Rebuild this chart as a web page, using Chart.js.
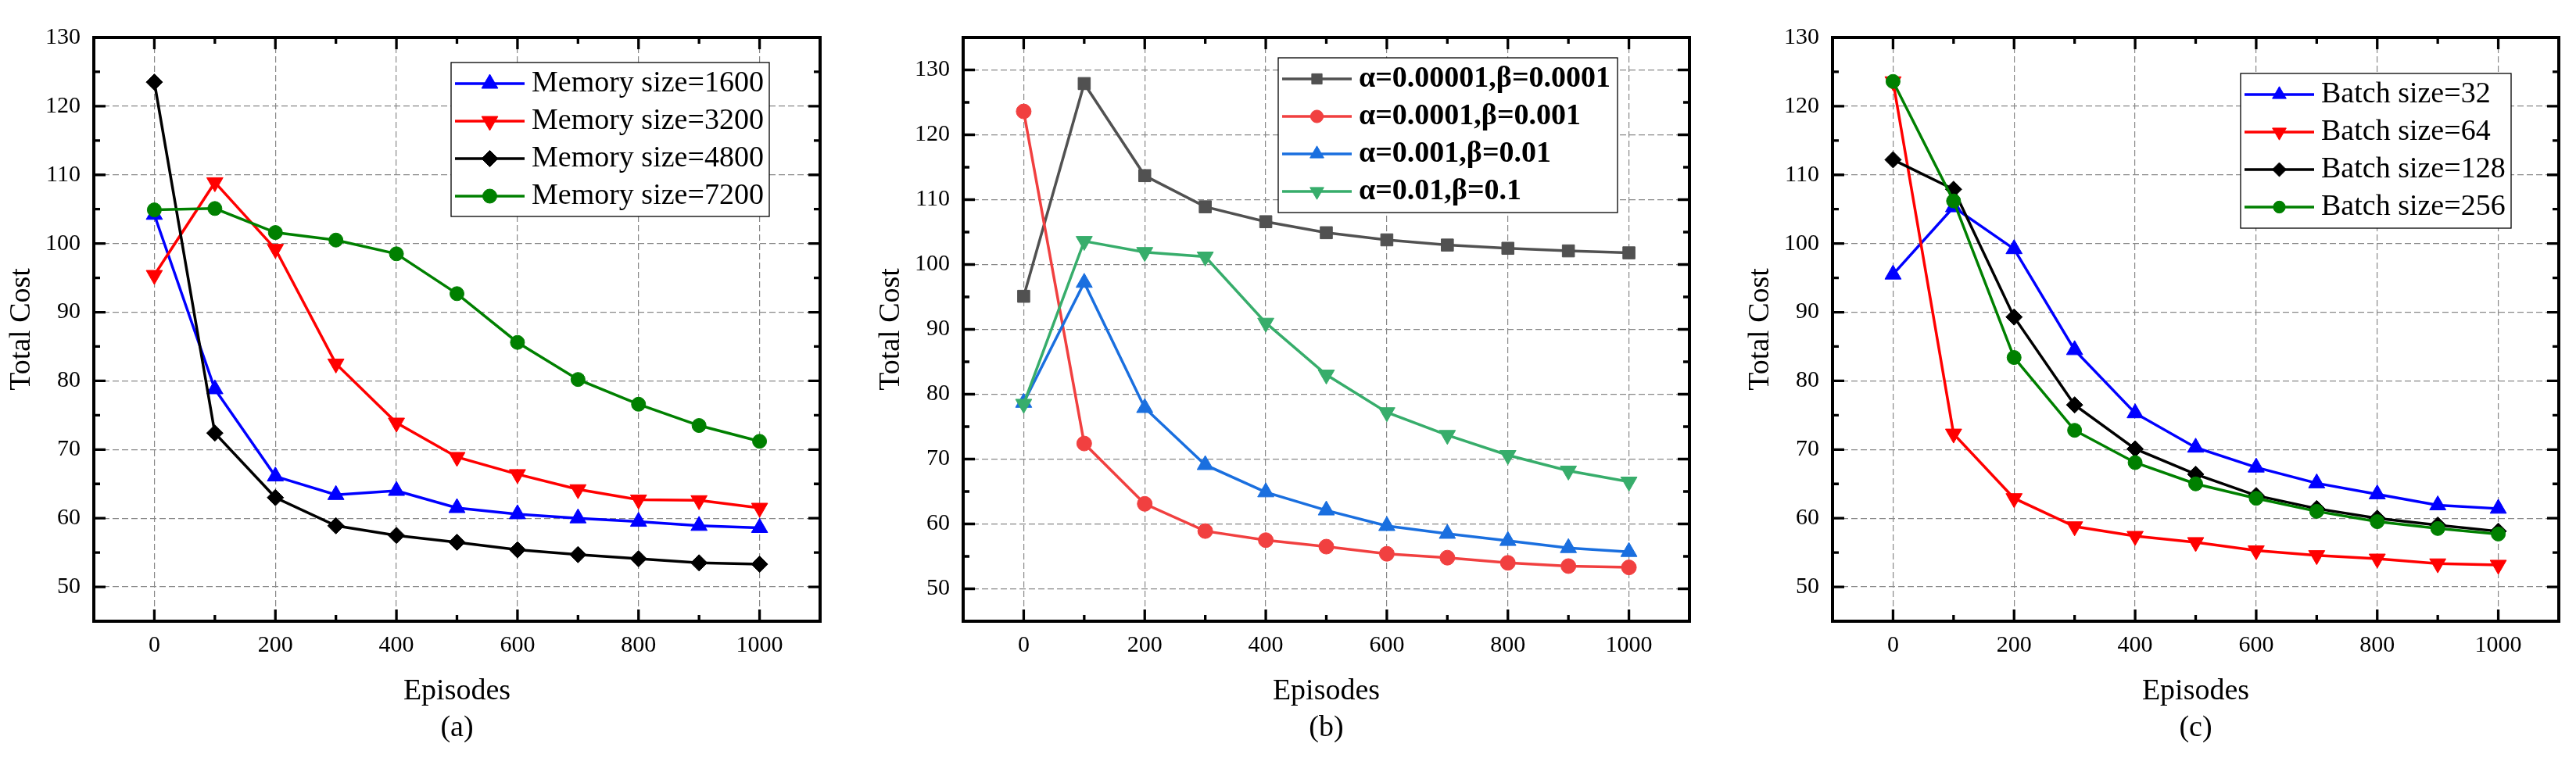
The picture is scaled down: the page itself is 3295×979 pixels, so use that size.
<!DOCTYPE html>
<html>
<head>
<meta charset="utf-8">
<script src="https://cdn.jsdelivr.net/npm/chart.js@4.4.0/dist/chart.umd.min.js"></script>
<style>
  html, body { margin: 0; padding: 0; background: #fff; overflow: hidden; }
  .panel { position: absolute; top: 0; }
</style>
</head>
<body>
<div class="panel" style="left:0px"><canvas id="chartA" width="1070" height="979"></canvas></div>
<div class="panel" style="left:1112px"><canvas id="chartB" width="1070" height="979"></canvas></div>
<div class="panel" style="left:2224px"><canvas id="chartC" width="1070" height="979"></canvas></div>
<script>
// x values and axis ticks
var episodes = [0, 100, 200, 300, 400, 500, 600, 700, 800, 900, 1000];
var xTickLabels = [0, 200, 400, 600, 800, 1000];
var xMinorTicks = [100, 300, 500, 700, 900];
var yTickLabels = [50, 60, 70, 80, 90, 100, 110, 120, 130];
var yMinorTicks = [55, 65, 75, 85, 95, 105, 115, 125];

// (a) memory size
var memLabels = ['Memory size=1600', 'Memory size=3200', 'Memory size=4800', 'Memory size=7200'];
var mem1600 = [104.2, 78.8, 66.1, 63.4, 64.0, 61.5, 60.6, 60.0, 59.5, 58.9, 58.6];
var mem3200 = [95.4, 108.9, 99.2, 82.5, 73.9, 68.9, 66.4, 64.2, 62.7, 62.6, 61.5];
var mem4800 = [123.5, 72.4, 63.0, 58.9, 57.5, 56.5, 55.4, 54.7, 54.1, 53.5, 53.3];
var mem7200 = [104.9, 105.1, 101.6, 100.5, 98.5, 92.7, 85.6, 80.2, 76.6, 73.5, 71.2];

// (b) learning rates
var lrLabels = ['α=0.00001,β=0.0001', 'α=0.0001,β=0.001', 'α=0.001,β=0.01', 'α=0.01,β=0.1'];
var lr1 = [95.1, 127.9, 113.7, 108.9, 106.6, 104.9, 103.8, 103.0, 102.5, 102.1, 101.8];
var lr2 = [123.6, 72.4, 63.1, 58.9, 57.5, 56.5, 55.4, 54.8, 54.0, 53.5, 53.3];
var lr3 = [78.7, 97.2, 77.9, 69.1, 64.9, 62.1, 59.7, 58.5, 57.4, 56.3, 55.7];
var lr4 = [78.5, 103.6, 101.9, 101.2, 91.0, 83.0, 77.2, 73.7, 70.6, 68.2, 66.5];

// (c) batch size
var batchLabels = ['Batch size=32', 'Batch size=64', 'Batch size=128', 'Batch size=256'];
var batch32 = [95.5, 105.3, 99.2, 84.5, 75.3, 70.3, 67.4, 65.1, 63.5, 61.9, 61.4];
var batch64 = [123.6, 72.3, 62.9, 58.8, 57.4, 56.5, 55.3, 54.6, 54.1, 53.4, 53.2];
var batch128 = [112.2, 107.9, 89.3, 76.5, 70.1, 66.4, 63.3, 61.4, 60.0, 59.0, 58.1];
var batch256 = [123.6, 106.2, 83.4, 72.8, 68.1, 65.0, 62.9, 61.0, 59.5, 58.5, 57.7];

var FONT = '"Liberation Serif", "Times New Roman", serif';

// legend with a frame, line sample and marker, drawn inside the plot
var boxLegend = {
  id: 'boxLegend',
  afterDatasetsDraw: function(chart, args, opts) {
    var ctx = chart.ctx;
    var x = chart.chartArea.left + opts.left;
    var y = opts.top;
    ctx.save();
    ctx.fillStyle = '#fff';
    ctx.fillRect(x, y, opts.width, opts.height);
    ctx.lineWidth = 1.3;
    ctx.strokeStyle = '#000';
    ctx.strokeRect(x, y, opts.width, opts.height);
    ctx.font = opts.font;
    ctx.textBaseline = 'middle';
    ctx.textAlign = 'left';
    chart.data.datasets.forEach(function(ds, i) {
      var ry = y + 27 + i * 48;
      var lx = x + 5;
      ctx.strokeStyle = ds.borderColor;
      ctx.lineWidth = ds.borderWidth;
      ctx.beginPath();
      ctx.moveTo(lx, ry);
      ctx.lineTo(lx + 89, ry);
      ctx.stroke();
      ctx.fillStyle = ds.borderColor;
      ctx.lineWidth = 1;
      Chart.helpers.drawPoint(ctx, {
        pointStyle: ds.pointStyle,
        rotation: ds.pointRotation || 0,
        radius: ds.pointRadius * opts.markerScale,
        borderWidth: 1
      }, lx + 44.5, ry);
      ctx.fillStyle = '#000';
      ctx.fillText(ds.label, lx + 98, ry);
    });
    ctx.restore();
  }
};

// black frame with inward major / minor ticks on all four sides
var frameTicks = {
  id: 'frameTicks',
  afterDraw: function(chart) {
    var ctx = chart.ctx, a = chart.chartArea;
    var sx = chart.scales.x, sy = chart.scales.y;
    ctx.save();
    ctx.strokeStyle = '#000';
    ctx.lineWidth = 3.3;
    function xTicks(vals, len) {
      vals.forEach(function(v) {
        var px = sx.getPixelForValue(v);
        ctx.beginPath();
        ctx.moveTo(px, a.bottom); ctx.lineTo(px, a.bottom - len);
        ctx.moveTo(px, a.top); ctx.lineTo(px, a.top + len);
        ctx.stroke();
      });
    }
    function yTicks(vals, len) {
      vals.forEach(function(v) {
        var py = sy.getPixelForValue(v);
        ctx.beginPath();
        ctx.moveTo(a.left, py); ctx.lineTo(a.left + len, py);
        ctx.moveTo(a.right, py); ctx.lineTo(a.right - len, py);
        ctx.stroke();
      });
    }
    xTicks(xTickLabels, 15);
    xTicks(xMinorTicks, 8);
    yTicks(yTickLabels, 15);
    yTicks(yMinorTicks, 8);
    ctx.lineWidth = 4;
    ctx.strokeRect(a.left, a.top, a.right - a.left, a.bottom - a.top);
    ctx.restore();
  }
};

function series(vals) {
  return episodes.map(function(e, i) { return {x: e, y: vals[i]}; });
}

function makePanel(id, labels, values, styles, yMax, letter, legendOpts) {
  var datasets = values.map(function(v, i) {
    var s = styles[i];
    return {
      label: labels[i],
      data: series(v),
      borderColor: s.color,
      backgroundColor: s.color,
      pointBackgroundColor: s.color,
      pointBorderColor: s.color,
      borderWidth: 3.5,
      pointStyle: s.shape,
      pointRotation: s.rot || 0,
      pointRadius: s.r,
      pointBorderWidth: 1,
      tension: 0,
      order: values.length - i
    };
  });
  return new Chart(document.getElementById(id), {
    type: 'line',
    data: { datasets: datasets },
    plugins: [boxLegend, frameTicks],
    options: {
      responsive: false,
      animation: false,
      devicePixelRatio: 1,
      layout: { padding: { top: 48, right: 21, left: 0, bottom: 0 } },
      plugins: {
        legend: { display: false },
        tooltip: { enabled: false },
        boxLegend: legendOpts
      },
      scales: {
        x: {
          type: 'linear',
          min: -100,
          max: 1100,
          afterBuildTicks: function(s) { s.ticks = xTickLabels.map(function(v) { return {value: v}; }); },
          afterFit: function(s) { s.height = 184; },
          ticks: {
            autoSkip: false, maxRotation: 0, padding: 13, color: '#000',
            font: { family: FONT, size: 30 },
            callback: function(v) { return String(v); }
          },
          grid: { color: '#888', lineWidth: 1.2, drawTicks: false },
          border: { display: false, dash: [8, 4] },
          title: {
            display: true,
            text: ['Episodes', letter],
            color: '#000',
            font: { family: FONT, size: 38, lineHeight: 1.25 },
            padding: { top: 0, bottom: 23 }
          }
        },
        y: {
          min: 45,
          max: yMax,
          afterBuildTicks: function(s) { s.ticks = yTickLabels.map(function(v) { return {value: v}; }); },
          afterFit: function(s) { s.width = 120; },
          ticks: {
            padding: 17, color: '#000',
            font: { family: FONT, size: 30 },
            callback: function(v) { return String(v); }
          },
          grid: { color: '#888', lineWidth: 1.2, drawTicks: false },
          border: { display: false, dash: [8, 4] },
          title: {
            display: true,
            text: 'Total Cost',
            color: '#000',
            font: { family: FONT, size: 38 },
            padding: { top: 5, bottom: 0 }
          }
        }
      }
    }
  });
}

var stylesAC = [
  { color: '#0000FF', shape: 'triangle', r: 12 },
  { color: '#FF0000', shape: 'triangle', rot: 180, r: 12 },
  { color: '#000000', shape: 'rectRot', r: 10.5 },
  { color: '#008000', shape: 'circle', r: 9 }
];
var stylesB = [
  { color: '#515151', shape: 'rect', r: 11 },
  { color: '#F14040', shape: 'circle', r: 9.5 },
  { color: '#1A6FDF', shape: 'triangle', r: 12 },
  { color: '#37AD6B', shape: 'triangle', rot: 180, r: 12 }
];

makePanel('chartA', memLabels, [mem1600, mem3200, mem4800, mem7200], stylesAC, 130, '(a)',
  { left: 457, top: 80, width: 407, height: 197, font: '38px ' + FONT, markerScale: 1 });
makePanel('chartB', lrLabels, [lr1, lr2, lr3, lr4], stylesB, 135, '(b)',
  { left: 403, top: 74, width: 434, height: 198, font: 'bold 38px ' + FONT, markerScale: 0.85 });
makePanel('chartC', batchLabels, [batch32, batch64, batch128, batch256], stylesAC, 130, '(c)',
  { left: 522, top: 94, width: 346, height: 198, font: '38px ' + FONT, markerScale: 0.85 });
</script>
</body>
</html>
